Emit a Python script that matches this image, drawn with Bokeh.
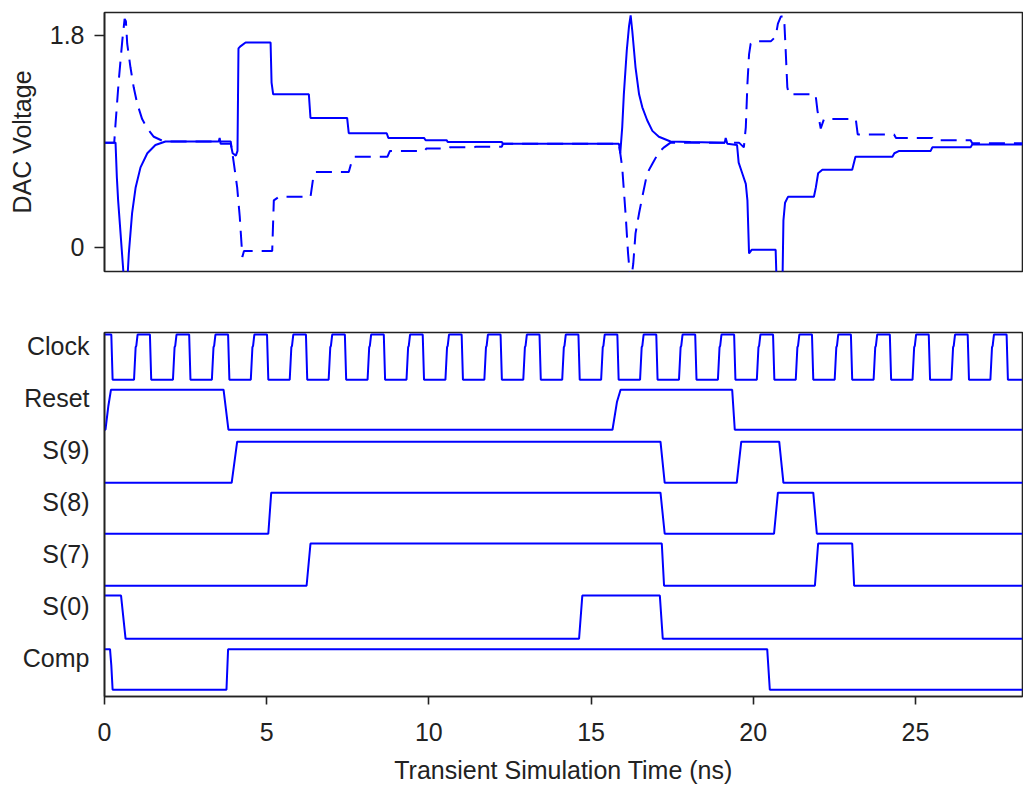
from bokeh.plotting import figure
from bokeh.layouts import column
from bokeh.models import Range1d, FixedTicker
from bokeh.embed import file_html
from bokeh.resources import INLINE

# ---------------- data ----------------
X_MAX = 28.3

# DAC voltages (ns, V) - solid trace
vp_t = [0.00, 0.34, 0.38, 0.42, 0.50, 0.58, 0.64, 0.70, 0.75, 0.85, 0.96, 1.11, 1.32, 1.57, 1.88,
        3.52, 3.55, 3.58, 3.89, 3.95, 4.05, 4.10, 4.13, 4.20, 4.35, 5.12, 5.15, 5.20, 6.30, 6.35,
        7.48, 7.53, 8.70, 8.75, 9.85, 9.90, 10.55, 10.58, 12.25, 12.28, 15.86, 15.90, 15.96, 16.01,
        16.10, 16.17, 16.22, 16.27, 16.37, 16.48, 16.58, 16.73, 16.89, 17.09, 17.45, 18.07, 19.12,
        19.15, 19.20, 19.50, 19.55, 19.66, 19.77, 19.82, 19.87, 19.95, 20.69, 20.72, 20.90, 20.93,
        20.98, 21.07, 21.87, 21.93, 22.00, 22.13, 23.05, 23.15, 24.29, 24.35, 24.50, 25.47, 25.52,
        26.70, 26.75, 28.30]
vp_v = [0.89, 0.89, 0.60, 0.40, 0.10, -0.20, -0.35, -0.30, -0.05, 0.29, 0.51, 0.68, 0.80, 0.87, 0.90,
        0.90, 0.93, 0.88, 0.88, 0.80, 0.78, 0.82, 1.69, 1.71, 1.74, 1.74, 1.40, 1.30, 1.30, 1.10,
        1.10, 0.97, 0.97, 0.93, 0.93, 0.91, 0.91, 0.895, 0.895, 0.88, 0.88, 0.80, 1.02, 1.30,
        1.67, 1.88, 1.97, 1.84, 1.53, 1.30, 1.19, 1.08, 0.99, 0.94, 0.90, 0.895, 0.89,
        0.93, 0.88, 0.87, 0.72, 0.63, 0.54, 0.40, -0.05, -0.02, -0.02, -0.30, -0.30, 0.23,
        0.38, 0.43, 0.43, 0.51, 0.63, 0.66, 0.66, 0.77, 0.77, 0.80, 0.82, 0.82, 0.85,
        0.85, 0.875, 0.875]

# DAC voltages - dashed trace
vn_t = [0.00, 0.30, 0.34, 0.44, 0.55, 0.62, 0.66, 0.70, 0.80, 0.90, 1.01, 1.16, 1.32, 1.52, 1.83,
        3.89, 3.99, 4.09, 4.17, 4.25, 4.30, 5.17, 5.22, 5.38, 6.35, 6.45, 6.50, 7.53, 7.65, 7.70,
        8.72, 8.80, 9.87, 9.92, 10.60, 10.65, 11.40, 11.45, 12.25, 12.28, 15.86, 15.96, 16.07,
        16.14, 16.22, 16.30, 16.37, 16.48, 16.58, 16.73, 16.89, 17.09, 17.25, 17.45, 19.56, 19.71,
        19.77, 19.82, 19.87, 19.92, 20.00, 20.54, 20.69, 20.76, 20.85, 20.95, 21.00, 21.05, 21.10,
        21.92, 21.98, 22.08, 22.18, 23.16, 23.22, 24.34, 24.40, 25.52, 25.58, 26.70, 26.75, 28.30]
vn_v = [0.89, 0.89, 1.05, 1.42, 1.76, 1.94, 1.92, 1.73, 1.53, 1.36, 1.22, 1.09, 1.01, 0.94, 0.90,
        0.90, 0.71, 0.51, 0.26, -0.08, -0.03, -0.03, 0.40, 0.43, 0.43, 0.62, 0.64, 0.64, 0.76, 0.77,
        0.77, 0.82, 0.82, 0.84, 0.84, 0.85, 0.85, 0.856, 0.856, 0.88, 0.88, 0.68, 0.26,
        -0.05, -0.30, -0.14, 0.12, 0.29, 0.43, 0.63, 0.71, 0.81, 0.85, 0.89, 0.89, 0.85,
        1.02, 1.39, 1.64, 1.73, 1.75, 1.75, 1.79, 1.90, 1.96, 1.96, 1.67, 1.36, 1.30,
        1.30, 1.16, 1.01, 1.09, 1.09, 0.96, 0.96, 0.93, 0.93, 0.91, 0.91, 0.885, 0.885]

# digital signals
signal_names = ["Clock", "Reset", "S(9)", "S(8)", "S(7)", "S(0)", "Comp"]
low_levels = [0.09, 0.13, 0.11, 0.13, 0.13, 0.11, 0.13]
high_levels = [0.96, 0.90, 0.90, 0.92, 0.94, 0.94, 0.91]

clock_fall = [0.21, 1.40, 2.61, 3.81, 5.01, 6.21, 7.41, 8.61, 9.81, 11.01, 12.21, 13.41,
              14.61, 15.81, 17.01, 18.21, 19.41, 20.61, 21.81, 23.01, 24.21, 25.41, 26.61, 27.81]
clock_rise = [0.91, 2.11, 3.31, 4.51, 5.71, 6.91, 8.11, 9.31, 10.51, 11.71, 12.91, 14.11,
              15.31, 16.51, 17.71, 18.91, 20.11, 21.31, 22.51, 23.71, 24.91, 26.11, 27.31]

reset_t = [0, 0.03, 0.12, 0.20, 3.67, 3.82, 15.66, 15.80, 15.91, 19.35, 19.43, 28.3]
reset_v = [0, 0, 0.6, 1, 1, 0, 0, 0.7, 1, 1, 0, 0]
s9_t = [0, 3.92, 4.09, 17.14, 17.27, 19.49, 19.63, 20.80, 20.93, 28.3]
s9_v = [0, 0, 1, 1, 0, 0, 1, 1, 0, 0]
s8_t = [0, 5.05, 5.14, 17.14, 17.27, 20.64, 20.76, 21.85, 21.96, 28.3]
s8_v = [0, 0, 1, 1, 0, 0, 1, 1, 0, 0]
s7_t = [0, 6.23, 6.35, 17.18, 17.25, 21.90, 22.00, 23.05, 23.11, 28.3]
s7_v = [0, 0, 1, 1, 0, 0, 1, 1, 0, 0]
s0_t = [0, 0.51, 0.65, 14.63, 14.73, 17.12, 17.21, 28.3]
s0_v = [1, 1, 0, 0, 1, 1, 0, 0]
comp_t = [0, 0.17, 0.21, 0.25, 3.76, 3.81, 20.43, 20.51, 28.3]
comp_v = [1, 1, 0.6, 0, 0, 1, 1, 0, 0]

x_ticks = [0, 5, 10, 15, 20, 25]
v_ticks = [0, 1.8]

# ---------------- build clock waveform from its edges ----------------
clk_pts = [(0.0, 1.0)]
for f in clock_fall:
    clk_pts += [(f, 1.0), (f + 0.04, 0.0)]
for r in clock_rise:
    clk_pts += [(r, 0.0), (r + 0.05, 0.72), (r + 0.07, 0.75), (r + 0.11, 1.0)]
clk_pts.append((X_MAX, 0.0))
clk_pts.sort()
clock_t = [p[0] for p in clk_pts]
clock_v = [p[1] for p in clk_pts]

signals_t = [clock_t, reset_t, s9_t, s8_t, s7_t, s0_t, comp_t]
signals_v = [clock_v, reset_v, s9_v, s8_v, s7_v, s0_v, comp_v]

# ---------------- styling ----------------
FONT = "Liberation Sans"
TXT = "#222222"
BLUE = "#0000ff"
EDGE = "#222222"
FS = "25px"

xr = Range1d(0, X_MAX)

top = figure(frame_width=918, frame_height=259, min_border_left=104, min_border_right=1,
             min_border_top=12, min_border_bottom=29, x_range=xr,
             y_range=Range1d(-0.204, 1.995), output_backend="svg", toolbar_location=None)
top.line(vp_t, vp_v, line_color=BLUE, line_width=2)
top.line(vn_t, vn_v, line_color=BLUE, line_width=2, line_dash="16 9")
top.xaxis.visible = False
top.grid.visible = False
top.outline_line_color = EDGE
top.outline_line_width = 1.6
top.outline_line_alpha = 1
ya = top.yaxis[0]
ya.ticker = FixedTicker(ticks=v_ticks)
ya.major_label_overrides = {0: "0", 1.8: "1.8"}
ya.major_tick_out = 10
ya.major_tick_in = 0
ya.minor_tick_line_color = None
ya.major_tick_line_color = EDGE
ya.major_tick_line_width = 1.6
ya.axis_line_color = EDGE
ya.axis_line_width = 1.6
ya.major_label_text_font = FONT
ya.major_label_text_font_size = FS
ya.major_label_text_color = TXT
ya.major_label_standoff = 10
ya.axis_label = "DAC Voltage"
ya.axis_label_text_font = FONT
ya.axis_label_text_font_size = FS
ya.axis_label_text_font_style = "normal"
ya.axis_label_text_color = TXT
ya.axis_label_standoff = 11
top.background_fill_color = "white"
top.border_fill_color = "white"

nrows = len(signal_names)
bot = figure(frame_width=918, frame_height=364, min_border_left=104, min_border_right=1,
             min_border_top=32, min_border_bottom=94, x_range=xr,
             y_range=Range1d(0, nrows), output_backend="svg", toolbar_location=None)
for i, (ts, vs) in enumerate(zip(signals_t, signals_v)):
    row = nrows - 1 - i
    lo, hi = low_levels[i], high_levels[i]
    ys = [row + lo + v * (hi - lo) for v in vs]
    bot.line(ts, ys, line_color=BLUE, line_width=2)
bot.grid.visible = False
bot.outline_line_color = EDGE
bot.outline_line_width = 1.6
bot.outline_line_alpha = 1
bot.background_fill_color = "white"
bot.border_fill_color = "white"

tick_pos = [nrows - 1 - i + 0.75 for i in range(nrows)]
by = bot.yaxis[0]
by.ticker = FixedTicker(ticks=tick_pos)
by.major_label_overrides = {p: n for p, n in zip(tick_pos, signal_names)}
by.major_tick_out = 0
by.major_tick_in = 0
by.minor_tick_line_color = None
by.major_tick_line_color = None
by.axis_line_color = EDGE
by.axis_line_width = 1.6
by.major_label_text_font = FONT
by.major_label_text_font_size = FS
by.major_label_text_color = TXT
by.major_label_standoff = 15

bx = bot.xaxis[0]
bx.ticker = FixedTicker(ticks=x_ticks)
bx.major_tick_out = 8
bx.major_tick_in = 0
bx.minor_tick_line_color = None
bx.major_tick_line_color = EDGE
bx.major_tick_line_width = 1.6
bx.axis_line_color = EDGE
bx.axis_line_width = 1.6
bx.major_label_text_font = FONT
bx.major_label_text_font_size = FS
bx.major_label_text_color = TXT
bx.major_label_standoff = 18
bx.axis_label = "Transient Simulation Time (ns)"
bx.axis_label_text_font = FONT
bx.axis_label_text_font_size = FS
bx.axis_label_text_font_style = "normal"
bx.axis_label_text_color = TXT
bx.axis_label_standoff = 12

layout = column(top, bot, spacing=0)
open("out.html", "w").write(file_html(layout, INLINE))
